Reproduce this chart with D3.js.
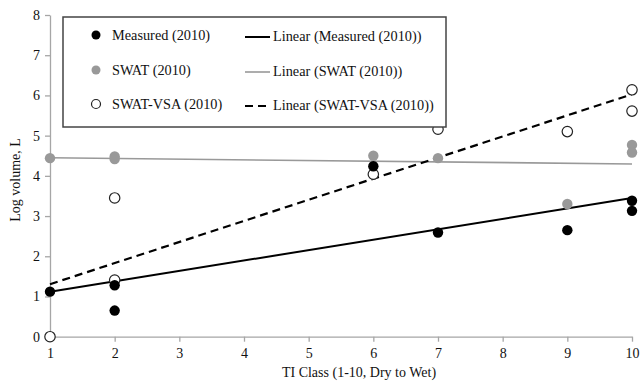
<!DOCTYPE html>
<html>
<head>
<meta charset="utf-8">
<script src="https://cdn.jsdelivr.net/npm/d3@7"></script>
<style>
  html, body { margin: 0; padding: 0; background: #fff; }
  svg { display: block; }
  svg text { font-family: "Liberation Serif", "Times New Roman", serif !important; fill: #111; }
</style>
</head>
<body>
<svg id="chart" width="642" height="381"></svg>
<script>
// ---- data ----
const xTicks = [1, 2, 3, 4, 5, 6, 7, 8, 9, 10];
const yTicks = [0, 1, 2, 3, 4, 5, 6, 7, 8];
const tiClass = [1, 2, 2, 6, 7, 9, 10, 10];
const measured = [1.12, 1.28, 0.65, 4.24, 2.59, 2.65, 3.38, 3.13];
const swat = [4.44, 4.48, 4.42, 4.50, 4.44, 3.30, 4.77, 4.58];
const swatVsa = [0.00, 3.45, 1.41, 4.04, 5.16, 5.10, 6.14, 5.61];
const seriesNames = ["Measured (2010)", "SWAT (2010)", "SWAT-VSA (2010)"];
const xLabel = "TI Class (1-10, Dry to Wet)";
const yLabel = "Log volume, L";

// ---- layout ----
const svg = d3.select("#chart");
const x = d3.scaleLinear().domain([1, 10]).range([50, 632]);
const y = d3.scaleLinear().domain([0, 8]).range([336.7, 15]);
const axisColor = "#a6a6a6";

const xAxis = svg.append("g").attr("transform", `translate(0,${y(0)})`)
  .call(d3.axisBottom(x).tickValues(xTicks).tickFormat(d3.format("d")).tickSize(5).tickSizeOuter(0));
const yAxis = svg.append("g").attr("transform", `translate(${x(1)},0)`)
  .call(d3.axisLeft(y).tickValues(yTicks).tickFormat(d3.format("d")).tickSize(5).tickSizeOuter(0));
[xAxis, yAxis].forEach(a => {
  a.attr("font-family", "Liberation Serif, serif").attr("font-size", 14);
  a.selectAll("path, line").attr("stroke", axisColor).attr("stroke-width", 1.3);
  a.selectAll("text").style("font-family", "'Liberation Serif', serif").attr("font-size", 14).attr("fill", "#111");
});
xAxis.selectAll("text").attr("dy", "0.95em");
yAxis.selectAll("text").attr("dx", "-0.15em");

// axis titles
svg.append("text").attr("x", 359).attr("y", 377).attr("text-anchor", "middle")
  .attr("font-size", 14).text(xLabel);
svg.append("text").attr("transform", "translate(20,180) rotate(-90)").attr("text-anchor", "middle")
  .attr("font-size", 14).text(yLabel);

// ---- trend lines (least squares fits of each series) ----
function fit(xs, ys) {
  const mx = d3.mean(xs), my = d3.mean(ys);
  const sxy = d3.sum(xs, (v, i) => (v - mx) * (ys[i] - my));
  const sxx = d3.sum(xs, v => (v - mx) * (v - mx));
  const b = sxy / sxx;
  return v => my + b * (v - mx);
}
const series = [
  { name: seriesNames[0], vals: measured, fill: "#000", stroke: "#000", line: "#000", lw: 2, dash: null },
  { name: seriesNames[1], vals: swat, fill: "#999", stroke: "#999", line: "#999", lw: 1.6, dash: null },
  { name: seriesNames[2], vals: swatVsa, fill: "#fff", stroke: "#222", line: "#000", lw: 2.2, dash: "8,5" }
];

const line = d3.line().x(d => x(d[0])).y(d => y(d[1]));
series.forEach(s => {
  const f = fit(tiClass, s.vals);
  svg.append("path").datum([[1, f(1)], [10, f(10)]])
    .attr("d", line).attr("fill", "none").attr("stroke", s.line)
    .attr("stroke-width", s.lw).attr("stroke-dasharray", s.dash);
});
[series[1], series[2], series[0]].forEach(s => {
  svg.append("g").selectAll("circle").data(s.vals).join("circle")
    .attr("cx", (d, i) => x(tiClass[i])).attr("cy", d => y(d)).attr("r", 5.2)
    .attr("fill", s.fill).attr("stroke", s.stroke).attr("stroke-width", s === series[2] ? 1.2 : 0);
});

// ---- legend ----
const lg = svg.append("g");
lg.append("rect").attr("x", 63).attr("y", 17).attr("width", 383).attr("height", 110)
  .attr("fill", "#fff").attr("stroke", "#444").attr("stroke-width", 1.5);
const rows = [35, 70, 104];
series.forEach((s, i) => {
  lg.append("circle").attr("cx", 96).attr("cy", rows[i]).attr("r", 4.5)
    .attr("fill", s.fill).attr("stroke", s.stroke).attr("stroke-width", i === 2 ? 1.2 : 0);
  lg.append("text").attr("x", 112).attr("y", rows[i] + 5).attr("font-size", 14.3).text(s.name);
  lg.append("line").attr("x1", 245).attr("x2", 270).attr("y1", rows[i] + 2).attr("y2", rows[i] + 2)
    .attr("stroke", s.line).attr("stroke-width", s.lw).attr("stroke-dasharray", s.dash);
  lg.append("text").attr("x", 273).attr("y", rows[i] + 6).attr("font-size", 14.3).text(`Linear (${s.name})`);
});
</script>
</body>
</html>
